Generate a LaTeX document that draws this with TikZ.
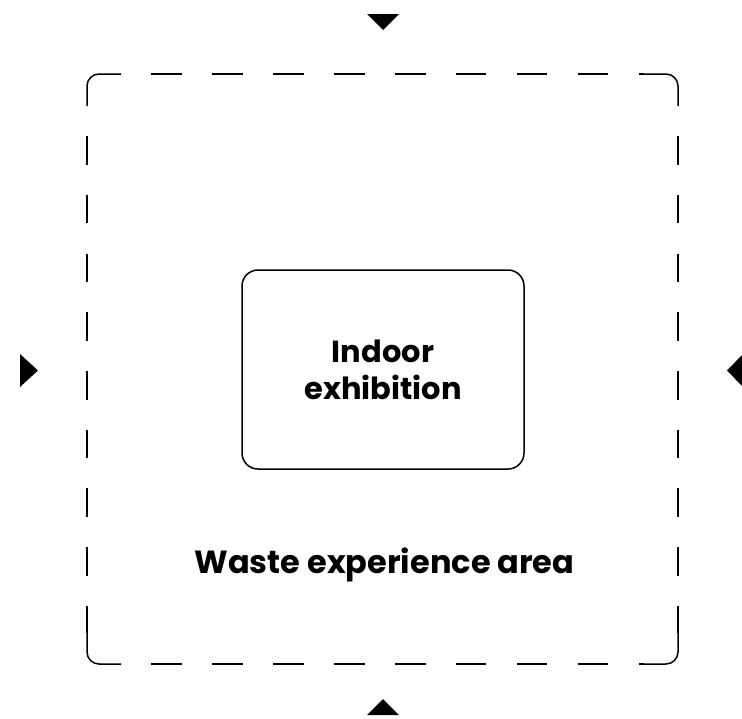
\documentclass[tikz,border=0pt]{standalone}
\usepackage{fontspec}
\setmainfont{Poppins}
\begin{document}
\begin{tikzpicture}[x=1pt,y=-1pt,
  line/.style={line width=1.5pt,black},
  corner/.style={line,rounded corners=12pt},
  midd/.style={line, dash pattern=on 30.5pt off 30.4pt, dash phase=30.5pt},
  side/.style={line, dash pattern=on 28.5pt off 30.2pt, dash phase=28.5pt},
  innerbox/.style={draw,line width=1.5pt,black,text=black,rounded corners=16pt,minimum width=282pt,minimum height=199pt,inner sep=0pt,align=center,font=\fontsize{30.5}{37}\selectfont\bfseries},
  label/.style={text=black,font=\fontsize{32}{36}\selectfont\bfseries,anchor=base,inner sep=0pt},
  tri/.style={fill=black}]
\useasboundingbox (0,0) rectangle (742,718);
% outer dashed rounded square: corner pieces
\draw[corner] (87,106) -- (87,74) -- (121,74);
\draw[corner] (644,74) -- (678,74) -- (678,106);
\draw[corner] (678,633) -- (678,664) -- (644,664);
\draw[corner] (121,664) -- (87,664) -- (87,633);
% middle dashes
\draw[midd] (121,74) -- (644,74);
\draw[midd] (121,664) -- (644,664);
\draw[side] (87,106) -- (87,633);
\draw[side] (678,106) -- (678,633);
% inner box
\node[innerbox] (inner) at (383,369.5) {Indoor\\exhibition};
\node[label] (area) at (384.5,573) {Waste experience area};
% entrance triangles
\fill[tri] (367,14) -- (399,14) -- (383,30) -- cycle;
\fill[tri] (367,715) -- (399,715) -- (383,699) -- cycle;
\fill[tri] (20,354) -- (20,387) -- (38,370.5) -- cycle;
\fill[tri] (743,354) -- (743,387) -- (727,370.5) -- cycle;
\end{tikzpicture}
\end{document}
